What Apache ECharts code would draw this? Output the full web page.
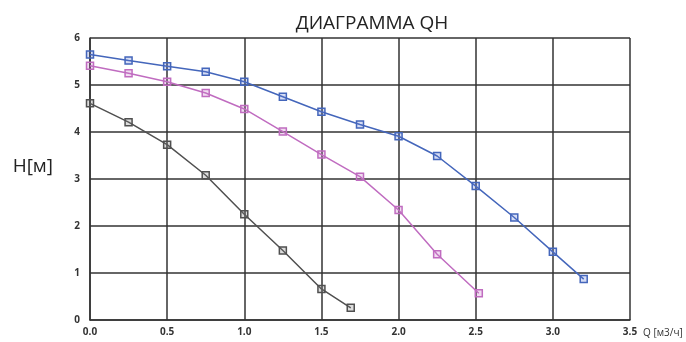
<!DOCTYPE html>
<html><head><meta charset="utf-8">
<script src="https://cdn.jsdelivr.net/npm/echarts@6/dist/echarts.min.js"></script>
<style>html,body{margin:0;padding:0;background:#fff}#c{width:686px;height:342px}</style>
</head><body><div id="c"></div>
<script>
const titleText = 'ДИАГРАММА QH';
const xName = 'Q [м3/ч]';
const yName = 'H[м]';
const grayQ = [0, 0.25, 0.5, 0.75, 1.0, 1.25, 1.5, 1.69];
const grayH = [4.61, 4.21, 3.73, 3.08, 2.25, 1.48, 0.66, 0.26];
const pinkQ = [0, 0.25, 0.5, 0.75, 1.0, 1.25, 1.5, 1.75, 2.0, 2.25, 2.52];
const pinkH = [5.41, 5.25, 5.07, 4.83, 4.49, 4.01, 3.52, 3.05, 2.34, 1.40, 0.57];
const blueQ = [0, 0.25, 0.5, 0.75, 1.0, 1.25, 1.5, 1.75, 2.0, 2.25, 2.5, 2.75, 3.0, 3.2];
const blueH = [5.65, 5.52, 5.40, 5.28, 5.07, 4.75, 4.43, 4.16, 3.91, 3.49, 2.85, 2.18, 1.45, 0.87];

const zip = (a, b) => a.map((v, i) => [v, b[i]]);
function mk(name, q, h, color, fill) {
  return {
    name, type: 'line', data: zip(q, h),
    symbol: 'rect', symbolSize: 7,
    lineStyle: { color, width: 1.5 },
    itemStyle: { color: fill, borderColor: color, borderWidth: 1.5 },
    z: 3
  };
}
const chart = echarts.init(document.getElementById('c'));
chart.setOption({
  animation: false,
  title: { text: titleText, left: 367, top: 9, textAlign: 'center',
    textStyle: { fontFamily: 'Open Sans', fontSize: 19, fontWeight: 'normal', color: '#222' } },
  grid: { left: 90, right: 56, top: 38, bottom: 22 },
  xAxis: {
    type: 'value', min: 0, max: 3.5, interval: 0.5,
    name: xName, nameLocation: 'end', nameGap: 10,
    nameTextStyle: { fontFamily: 'Open Sans', fontSize: 10, color: '#333', verticalAlign: 'top', padding: [8, 0, 0, 0] },
    axisLine: { show: true, lineStyle: { color: '#333', width: 1.5 } },
    axisTick: { show: false },
    axisLabel: { formatter: v => v.toFixed(1), fontFamily: 'Open Sans', fontSize: 10, fontWeight: 'bold', color: '#333', margin: 7 },
    splitLine: { show: true, lineStyle: { color: '#333', width: 1.5 } }
  },
  yAxis: {
    type: 'value', min: 0, max: 6, interval: 1,
    name: yName, nameLocation: 'middle', nameRotate: 0, nameGap: 37,
    nameTextStyle: { fontFamily: 'Open Sans', fontSize: 19, color: '#222', align: 'right', verticalAlign: 'bottom', padding: [0, 0, 3, 0] },
    axisLine: { show: true, lineStyle: { color: '#333', width: 1.5 } },
    axisTick: { show: false },
    axisLabel: { fontFamily: 'Open Sans', fontSize: 10, fontWeight: 'bold', color: '#333', margin: 10 },
    splitLine: { show: true, lineStyle: { color: '#333', width: 1.5 } }
  },
  series: [
    mk('gray', grayQ, grayH, '#505050', 'rgba(120,120,120,0.25)'),
    mk('pink', pinkQ, pinkH, '#c06cc0', 'rgba(200,120,200,0.25)'),
    mk('blue', blueQ, blueH, '#4466bb', 'rgba(90,120,210,0.25)')
  ]
});
</script></body></html>
